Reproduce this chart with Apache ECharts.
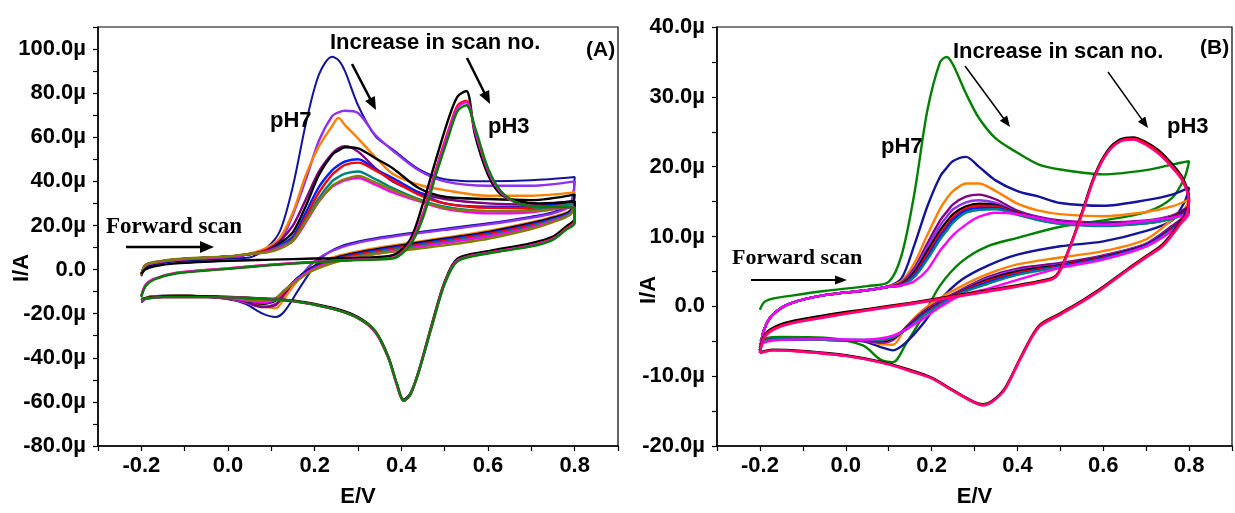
<!DOCTYPE html>
<html>
<head>
<meta charset="utf-8">
<script src="https://cdn.jsdelivr.net/npm/echarts@6/dist/echarts.min.js"></script>
<style>
  html, body { margin: 0; padding: 0; background: #fff; }
  #chart { width: 1235px; height: 513px; }
</style>
</head>
<body>
<div id="chart"></div>
<script>
// ---------- panel (A) : pH 7 scans, currents in µA ----------
// potential grid (V): forward sweep then reverse sweep
const eA7 = [-0.2, -0.19, -0.15, -0.1, 0.0, 0.05, 0.09, 0.12, 0.15, 0.18, 0.21, 0.24, 0.255, 0.27, 0.30, 0.34, 0.38, 0.44, 0.5, 0.6, 0.7, 0.8,
  0.79, 0.75, 0.7, 0.6, 0.5, 0.4, 0.32, 0.26, 0.22, 0.19, 0.16, 0.13, 0.11, 0.08, 0.04, 0.0, -0.1, -0.18, -0.2];
const a7Navy = [-3, 1, 3, 4, 5, 5.5, 10, 17.5, 38, 66.5, 88.5, 96.5, 95, 90, 74.5, 60.5, 54.5, 45.5, 41, 40, 40.5, 42,
  30, 26, 24, 21, 18.5, 16, 13.5, 10.5, 6, -1, -10, -19, -21.5, -20, -15.5, -13.5, -11.8, -12.3, -15];
const a7Violet = [-2.5, 2, 3.8, 4.8, 5.8, 7, 9.5, 12.5, 25, 41, 58.5, 69.5, 71.3, 72, 71, 61, 54, 45, 40, 38, 38, 40,
  29, 25.5, 23.5, 20.5, 18, 15.5, 13, 10, 6.5, 2, -5, -12, -15.5, -17, -15, -13, -11.8, -12.3, -14.5];
const a7Orange = [-2.5, 2, 3.8, 4.8, 5.8, 7.2, 10, 14.5, 26, 43, 56, 65, 68.8, 65.5, 59.5, 51, 43.5, 38.5, 36, 33.5, 33.5, 35,
  27, 24, 21.5, 17.5, 14.5, 11.5, 9, 6.5, 4, 0.5, -5, -13, -17.5, -16.5, -14.5, -13, -12, -12.5, -14];
const a7Purple = [-2.5, 2, 3.8, 4.8, 5.8, 7, 9, 13, 20, 32, 44.5, 52.5, 55, 56, 53.5, 46, 40, 35, 32, 30, 29.5, 31,
  26, 23, 20.5, 16.5, 13.5, 10.5, 8, 5.5, 3, 0, -4, -11, -16, -17, -14.5, -13, -12, -12.5, -14];
const a7Black = [-2.5, 2, 3.8, 4.8, 5.8, 7, 8.5, 12, 17, 29, 43, 52, 54, 55.5, 55, 50.5, 46, 37, 33, 32, 31.5, 34,
  26.5, 23.5, 21, 17, 14, 11, 8.5, 6, 3.5, 0.5, -4, -10, -14, -15.5, -14, -12.8, -12, -12.5, -14];
const a7Blue = [-2.5, 2, 3.8, 4.8, 5.8, 7, 8.5, 11, 15, 26, 37.5, 45, 47.3, 49, 50, 45.5, 41.5, 35, 30, 28.5, 28.5, 31,
  26, 23, 20.5, 16.5, 13.5, 10.5, 8, 5.5, 3, 0, -4, -10, -13.5, -15, -14, -12.8, -12, -12.5, -14];
const a7Red = [-2.5, 2, 3.8, 4.8, 5.8, 7, 8.5, 10.5, 14, 24, 35, 43, 45.5, 47.5, 48.5, 45, 40.5, 34, 30, 28, 28, 30,
  25.5, 22.5, 20, 16, 13, 10, 7.5, 5, 2.5, -0.5, -4.5, -10, -13.5, -14.5, -13.8, -12.8, -12, -12.5, -14];
const a7Teal = [-2.5, 2, 3.8, 4.8, 5.8, 7, 8, 10.5, 13.5, 22.5, 32.5, 40, 42, 43.5, 44.5, 41, 37, 32, 28.5, 26.5, 27, 30,
  25.5, 22.5, 19.5, 15.5, 12.5, 9.5, 7, 4.5, 2, -0.5, -4.5, -9.5, -13, -14.5, -13.8, -12.8, -12, -12.5, -14];
const a7Magenta = [-2.5, 2, 3.8, 4.8, 5.8, 7, 8, 10, 13, 21.5, 31, 37.5, 39.2, 40.5, 41.5, 38.5, 35, 31, 27.5, 25.5, 26, 29,
  25, 22, 19, 15, 12, 9, 6.5, 4.5, 2, -0.5, -4.5, -9.5, -13.5, -15, -14, -12.8, -12, -12.5, -14];
const a7Olive = [-2.5, 2.2, 4, 5, 6, 7.2, 7.8, 9.5, 13, 22, 31, 38, 39.7, 41, 42.5, 39.5, 36, 31.5, 28, 26.5, 26.5, 29,
  25, 21.5, 18.4, 14, 11, 8.6, 6.5, 4, 1.5, -1, -5, -9.5, -13, -14, -13.5, -12.6, -11.8, -12.3, -13.8];

// ---------- panel (A) : pH 3 scans ----------
const eA3 = [-0.2, -0.19, -0.17, -0.12, 0.0, 0.1, 0.2, 0.3, 0.38, 0.42, 0.45, 0.48, 0.51, 0.53, 0.55, 0.57, 0.6, 0.63, 0.67, 0.72, 0.8,
  0.8, 0.78, 0.75, 0.7, 0.6, 0.53, 0.5, 0.47, 0.44, 0.42, 0.405, 0.39, 0.37, 0.34, 0.3, 0.24, 0.15, 0.05, -0.05, -0.15, -0.2];
const a3Black = [-2, 0.2, 1.5, 2.8, 4, 4.5, 5, 5.3, 6.5, 13.5, 30, 50, 69, 78.5, 81, 61, 43, 34, 31, 30, 31,
  23, 19.5, 15, 12, 8.3, 5, -5.5, -25, -46, -56.5, -59, -52, -39.5, -28, -21.5, -17.3, -14, -12.8, -12.2, -12.2, -13.3];
const a3Red = [-12, -7, -4.2, -1.5, 0.5, 2.2, 3.5, 4.5, 5.3, 12, 25.5, 45.5, 64, 74.5, 76.5, 63, 45, 35, 30, 28.5, 28,
  22, 18.5, 14, 11, 7.6, 4.2, -6, -25.5, -46.5, -57, -59.5, -52.5, -40, -28.5, -22, -17.7, -14.3, -13, -12.5, -12.5, -13.5];
const a3Magenta = [-12, -7, -4.2, -1.5, 0.5, 2.2, 3.5, 4.5, 5.3, 11.5, 25, 44.5, 63, 73.5, 76, 63, 45, 35, 30, 28.5, 28,
  21.5, 18.2, 13.8, 10.8, 7.5, 4.2, -6.2, -26, -46.5, -57, -59.5, -52.5, -40, -28.3, -22, -17.7, -14.3, -13, -12.5, -12.5, -13.5];
const a3Green = [-12.5, -7.5, -4.5, -1.8, 0.3, 2, 3.3, 4.3, 5, 11, 23.5, 43, 61, 72, 74.5, 64.5, 46, 35.5, 30, 28.5, 28,
  21, 18, 13.5, 10.5, 7.3, 3.8, -6.5, -26, -46.5, -57, -59.5, -52, -40, -28, -22, -17.7, -14.3, -13, -12.5, -12.5, -13.5];

// ---------- panel (B) : pH 7 scans ----------
const eB7 = [-0.2, -0.19, -0.17, -0.13, -0.05, 0.05, 0.1, 0.13, 0.16, 0.19, 0.22, 0.235, 0.25, 0.28, 0.31, 0.35, 0.4, 0.45, 0.5, 0.6, 0.7, 0.76, 0.8,
  0.79, 0.76, 0.7, 0.6, 0.5, 0.4, 0.33, 0.27, 0.22, 0.18, 0.14, 0.11, 0.08, 0.04, -0.05, -0.15, -0.19, -0.2];
const b7Green = [-0.5, 0.6, 1.1, 1.5, 2.2, 2.9, 3.5, 7.3, 16.2, 28, 35, 35.7, 34.6, 30.5, 27, 24, 22, 20.3, 19.6, 18.9, 19.5, 20.3, 20.8,
  18.5, 15.5, 13.5, 12.3, 11.4, 9.8, 8.6, 6.4, 3, -1.4, -5.4, -8, -7.6, -5.6, -4.5, -4.4, -4.6, -5];
const b7Navy = [-6.3, -3.3, -1.2, 0.4, 1.6, 2.3, 2.9, 4, 8.8, 14.3, 18.6, 19.8, 20.8, 21.4, 20, 18, 16.5, 15.7, 14.8, 14.4, 15.2, 16, 17,
  15, 12.3, 10.8, 9.3, 8.6, 7.4, 5.8, 3.8, 0.9, -2.5, -5.2, -6.3, -5.8, -5, -4.8, -4.7, -5, -6];
const b7Orange = [-6.3, -3.3, -1.2, 0.4, 1.6, 2.3, 2.9, 3.6, 6.2, 10.2, 14, 15.4, 16.5, 17.6, 17.6, 16.5, 14.7, 13.7, 13.2, 12.9, 13.5, 14.3, 15.3,
  14, 12.4, 9.6, 7.9, 7, 6, 4.6, 2.9, 1.2, -0.5, -3, -5.5, -5.4, -4.9, -4.8, -4.7, -5, -6];
const b7Purple = [-6.3, -3.3, -1.2, 0.4, 1.6, 2.3, 2.8, 3.4, 5.5, 9, 12.3, 13.5, 14.6, 15.7, 16, 15.3, 13.7, 12.8, 12.3, 12, 12.3, 13, 14.3,
  13, 11.5, 9, 7.3, 6.2, 5.4, 4.2, 2.4, 0.8, -0.8, -3, -4.8, -5.2, -4.9, -4.8, -4.7, -5, -6];
const b7Violet = [-6.3, -3.3, -1.2, 0.4, 1.6, 2.3, 2.8, 3.3, 5.2, 8.5, 11.6, 12.8, 13.9, 14.9, 15.2, 14.8, 13.5, 12.7, 12.2, 11.9, 12.2, 12.9, 14,
  12.8, 11.3, 8.9, 7.2, 6, 5.2, 4, 2.3, 0.6, -1, -3.1, -4.7, -5.1, -4.9, -4.8, -4.7, -5, -6];
const b7Black = [-6.3, -3.3, -1.2, 0.4, 1.6, 2.3, 2.8, 3.2, 4.9, 7.9, 10.9, 12.1, 13.2, 14.3, 14.7, 14.5, 13.4, 12.6, 12.1, 11.8, 12.1, 12.8, 14,
  12.7, 11.2, 8.8, 7.1, 5.9, 5, 3.8, 2.2, 0.5, -1.1, -3.2, -4.6, -5, -4.9, -4.8, -4.7, -5, -6];
const b7Red = [-6.3, -3.3, -1.2, 0.4, 1.6, 2.3, 2.8, 3.1, 4.6, 7.4, 10.4, 11.6, 12.8, 14, 14.4, 14.3, 13.3, 12.5, 12, 11.7, 12, 12.7, 13.8,
  12.6, 11.1, 8.7, 7, 5.8, 4.8, 3.6, 2.1, 0.4, -1.2, -3.3, -4.5, -4.9, -4.9, -4.8, -4.7, -5, -6];
const b7Blue = [-6.3, -3.3, -1.2, 0.4, 1.6, 2.3, 2.8, 3.0, 4.4, 7, 10, 11.2, 12.4, 13.7, 14.1, 14.1, 13.2, 12.4, 11.9, 11.6, 11.9, 12.6, 13.6,
  12.5, 11, 8.7, 6.9, 5.7, 4.6, 3.4, 2, 0.3, -1.3, -3.3, -4.4, -4.8, -4.8, -4.8, -4.7, -5, -6];
const b7Teal = [-6.3, -3.3, -1.2, 0.4, 1.6, 2.3, 2.8, 3.0, 4.2, 6.7, 9.6, 10.8, 12, 13.4, 13.8, 13.9, 13.1, 12.3, 11.8, 11.5, 11.9, 12.5, 13.4,
  12.4, 10.9, 8.6, 6.8, 5.6, 4.5, 3.2, 1.9, 0.2, -1.4, -3.4, -4.4, -4.8, -4.8, -4.8, -4.7, -5, -6];
const b7Magenta = [-6.3, -3.3, -1.2, 0.4, 1.6, 2.3, 2.8, 3.0, 3.6, 5.2, 8, 9.1, 10.2, 11.7, 12.8, 13.4, 13.2, 12.6, 12, 11.7, 12.2, 12.7, 13.2,
  12.5, 10.8, 8.6, 6.7, 5.5, 3.8, 2.5, 1.6, -0.1, -1.8, -3.3, -4.2, -4.6, -4.8, -4.7, -4.8, -5.2, -6];

// ---------- panel (B) : pH 3 scans ----------
const eB3 = [-0.2, -0.19, -0.17, -0.13, -0.05, 0.05, 0.15, 0.25, 0.35, 0.45, 0.49, 0.52, 0.55, 0.58, 0.61, 0.64, 0.67, 0.7, 0.73, 0.76, 0.785, 0.8,
  0.795, 0.78, 0.74, 0.7, 0.66, 0.6, 0.55, 0.5, 0.45, 0.41, 0.37, 0.34, 0.32, 0.3, 0.25, 0.2, 0.15, 0.1, 0.0, -0.1, -0.17, -0.2];
const b3Black = [-6.6, -4.2, -3.1, -2.2, -1.3, -0.4, 0.5, 1.5, 2.5, 3.6, 4.4, 8.2, 13.4, 18.8, 22.3, 23.9, 24.2, 23.5, 22.3, 20.4, 18.4, 15.5,
  13.6, 12.1, 9, 7.2, 5.5, 2.8, 0.8, -1, -2.8, -7, -11.8, -13.6, -14, -13.7, -12, -10.2, -9.1, -8.2, -7, -6.4, -6.2, -6.6];
const b3Red = [-6.7, -4.4, -3.3, -2.4, -1.5, -0.5, 0.4, 1.4, 2.4, 3.5, 4.3, 8.1, 13.2, 18.6, 22.1, 23.7, 24, 23.3, 22, 20.1, 18.1, 15.2,
  13.4, 11.9, 8.8, 7.1, 5.4, 2.7, 0.7, -1.1, -2.9, -7.1, -11.9, -13.7, -14.1, -13.8, -12.1, -10.3, -9.2, -8.3, -7.1, -6.5, -6.3, -6.7];
const b3Pink = [-6.7, -4.5, -3.4, -2.5, -1.6, -0.6, 0.3, 1.3, 2.3, 3.4, 4.2, 8, 13.1, 18.5, 22, 23.6, 23.9, 23.1, 21.8, 19.9, 17.9, 15,
  13.3, 11.8, 8.7, 7, 5.3, 2.6, 0.6, -1.2, -3, -7.2, -12, -13.7, -14.2, -13.8, -12.1, -10.3, -9.3, -8.3, -7.1, -6.5, -6.3, -6.7];

// ---------- helpers ----------
const FONT = '"Liberation Sans", Arial, sans-serif';
const SERIF = '"Liberation Serif", "Times New Roman", serif';
const LW = 2.4;

const pairs = (e, v) => e.map((x, k) => [x, v[k]]);

function scan(e, v, color, g, width) {
  return {
    type: 'line',
    xAxisIndex: g,
    yAxisIndex: g,
    data: pairs(e, v),
    showSymbol: false,
    symbol: 'none',
    smooth: 0.3,
    silent: true,
    lineStyle: { color, width: width || LW },
    itemStyle: { color },
  };
}

function microLabel(v) {
  return Math.abs(v) < 1e-9 ? '0.0' : v.toFixed(1) + 'µ';
}

function xAxisOpt(g) {
  return {
    type: 'value',
    gridIndex: g,
    min: -0.3,
    max: 0.9,
    interval: 0.1,
    name: 'E/V',
    nameLocation: 'middle',
    nameGap: 40,
    nameTextStyle: { fontFamily: FONT, fontWeight: 'bold', fontSize: 22, color: '#000' },
    axisLine: { onZero: false, lineStyle: { color: '#000', width: 1.5 } },
    axisTick: { inside: false, length: 5, lineStyle: { color: '#000', width: 1.2 } },
    splitLine: { show: false },
    axisLabel: {
      margin: 9,
      fontFamily: FONT, fontWeight: 'bold', fontSize: 22, color: '#000',
      formatter: (v) => {
        const k = Math.round(v * 10);
        return (k % 2 === 0 && k >= -2 && k <= 8) ? (k / 10).toFixed(1) : '';
      },
    },
  };
}

function yAxisOpt(g, min, max, step, labelStep, labelMax) {
  return {
    type: 'value',
    gridIndex: g,
    min, max, interval: step,
    axisLine: { onZero: false, lineStyle: { color: '#000', width: 1.5 } },
    axisTick: { inside: false, length: 5, lineStyle: { color: '#000', width: 1.2 } },
    splitLine: { show: false },
    axisLabel: {
      margin: 12,
      fontFamily: FONT, fontWeight: 'bold', fontSize: 22, color: '#000',
      formatter: (v) => {
        const r = Math.round(v);
        return (r % labelStep === 0 && r <= labelMax) ? microLabel(r) : '';
      },
    },
  };
}

function txt(text, x, y, size, opts) {
  return {
    type: 'text', x, y, z: 100,
    rotation: (opts && opts.rotation) || 0,
    style: {
      text,
      fill: '#000',
      fontFamily: (opts && opts.family) || FONT,
      fontWeight: 'bold',
      fontSize: size,
      align: (opts && opts.align) || 'left',
      verticalAlign: 'middle',
    },
  };
}

function arrow(x1, y1, x2, y2, w, head, half) {
  const dx = x2 - x1, dy = y2 - y1;
  const len = Math.hypot(dx, dy);
  const ux = dx / len, uy = dy / len;
  const bx = x2 - ux * head, by = y2 - uy * head;
  return [
    { type: 'line', z: 100, shape: { x1, y1, x2: bx + ux, y2: by + uy }, style: { stroke: '#000', lineWidth: w } },
    { type: 'polygon', z: 100,
      shape: { points: [[x2, y2], [bx - uy * half, by + ux * half], [bx + uy * half, by - ux * half]] },
      style: { fill: '#000' } },
  ];
}

// ---------- chart ----------
const chart = echarts.init(document.getElementById('chart'));

chart.setOption({
  animation: false,
  backgroundColor: '#fff',
  grid: [
    { left: 98, top: 27, width: 520, height: 421, show: true, borderColor: '#000', borderWidth: 1.2 },
    { left: 717, top: 27, width: 517, height: 421, show: true, borderColor: '#000', borderWidth: 1.2 },
  ],
  xAxis: [xAxisOpt(0), xAxisOpt(1)],
  yAxis: [
    yAxisOpt(0, -80, 110, 10, 20, 100),
    yAxisOpt(1, -20, 40, 5, 10, 40),
  ],
  series: [
    // (A) pH 7
    scan(eA7, a7Navy, '#14149a', 0, 2),
    scan(eA7, a7Violet, '#9030f0', 0),
    scan(eA7, a7Orange, '#ff8000', 0),
    scan(eA7, a7Purple, '#800080', 0),
    scan(eA7, a7Black, '#000000', 0),
    scan(eA7, a7Blue, '#0020ff', 0),
    scan(eA7, a7Red, '#ff0000', 0),
    scan(eA7, a7Teal, '#008080', 0),
    scan(eA7, a7Magenta, '#ff00ff', 0),
    scan(eA7, a7Olive, '#808000', 0),
    // (A) pH 3
    scan(eA3, a3Black, '#000000', 0),
    scan(eA3, a3Red, '#ff0000', 0),
    scan(eA3, a3Magenta, '#ff00ff', 0),
    scan(eA3, a3Green, '#008000', 0),
    // (B) pH 7
    scan(eB7, b7Green, '#008000', 1),
    scan(eB7, b7Navy, '#14149a', 1),
    scan(eB7, b7Orange, '#ff8000', 1),
    scan(eB7, b7Purple, '#800080', 1),
    scan(eB7, b7Violet, '#9030f0', 1),
    scan(eB7, b7Black, '#000000', 1),
    scan(eB7, b7Red, '#ff0000', 1),
    scan(eB7, b7Blue, '#0020ff', 1),
    scan(eB7, b7Teal, '#008080', 1),
    scan(eB7, b7Magenta, '#ff00ff', 1),
    // (B) pH 3
    scan(eB3, b3Black, '#000000', 1),
    scan(eB3, b3Red, '#ff0000', 1),
    scan(eB3, b3Pink, '#ff0080', 1),
  ],
  graphic: [
    // panel (A) annotations
    txt('I/A', 22, 268, 22, { rotation: Math.PI / 2, align: 'center' }),
    txt('Increase in scan no.', 330, 43, 22),
    txt('pH7', 270, 121, 22),
    txt('pH3', 488, 127, 22),
    txt('(A)', 586, 50, 21),
    txt('Forward scan', 106, 227, 23, { family: SERIF }),
    ...arrow(126, 247, 214, 247, 2.5, 14, 6),
    ...arrow(352, 64, 376, 110, 2.5, 13, 5.5),
    ...arrow(467, 58, 490, 104, 2.5, 13, 5.5),
    // panel (B) annotations
    txt('I/A', 649, 290, 22, { rotation: Math.PI / 2, align: 'center' }),
    txt('Increase in scan no.', 953, 52, 22),
    txt('pH7', 881, 147, 22),
    txt('pH3', 1167, 127, 22),
    txt('(B)', 1200, 48, 21),
    txt('Forward scan', 732, 258, 22, { family: SERIF }),
    ...arrow(751, 280, 847, 280, 1.8, 12, 4.5),
    ...arrow(965, 66, 1010, 127, 1.5, 11, 4.5),
    ...arrow(1108, 72, 1148, 128, 1.5, 11, 4.5),
  ],
});
</script>
</body>
</html>
